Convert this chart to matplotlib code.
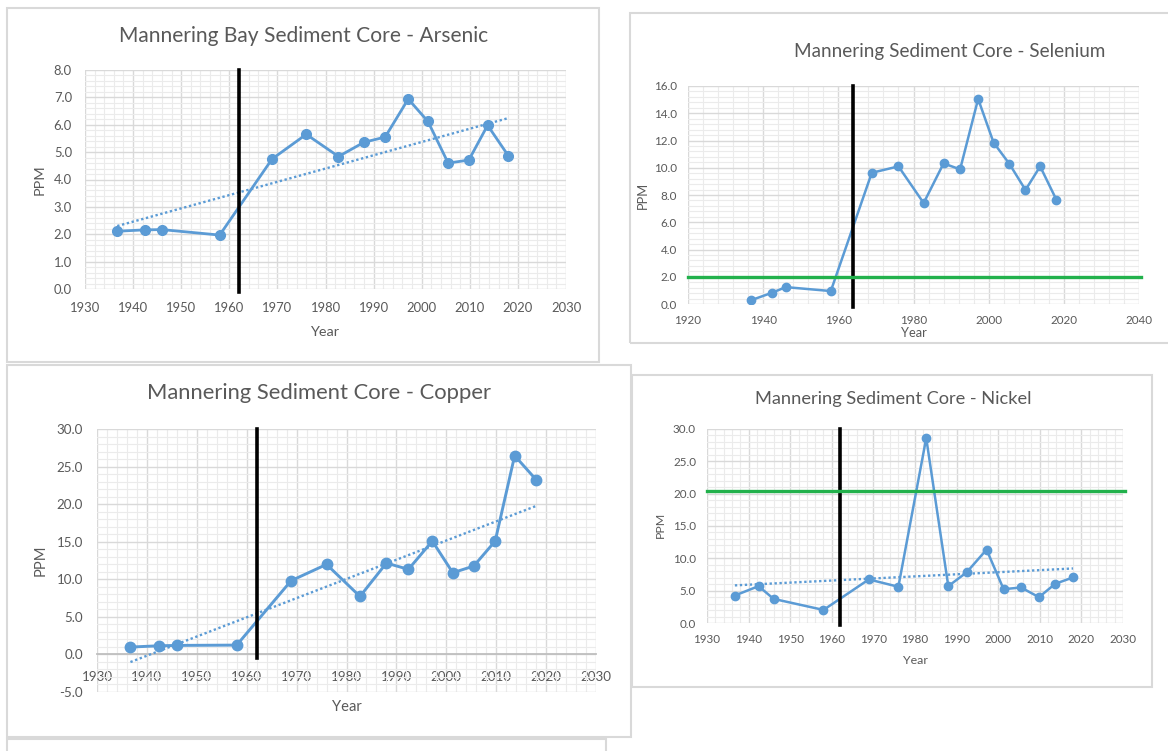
import numpy as np
import matplotlib
matplotlib.use("Agg")
import matplotlib.pyplot as plt
from matplotlib.patches import Rectangle
from matplotlib.ticker import MultipleLocator, FuncFormatter

# ---------------- data ----------------
years = [1936.7, 1942.4, 1946.0, 1958.0, 1968.9, 1976.0, 1982.7, 1988.0,
         1992.4, 1997.2, 2001.3, 2005.5, 2009.8, 2013.7, 2018.0]
arsenic = [2.11, 2.16, 2.17, 1.97, 4.75, 5.65, 4.84, 5.36, 5.55, 6.94, 6.12, 4.60, 4.71, 5.98, 4.87]
selenium = [0.27, 0.83, 1.24, 0.95, 9.63, 10.10, 7.41, 10.32, 9.88, 15.05, 11.85, 10.29, 8.37, 10.10, 7.66]
copper = [0.98, 1.15, 1.20, 1.24, 9.81, 11.98, 7.72, 12.16, 11.32, 15.09, 10.87, 11.76, 15.09, 26.45, 23.25]
nickel = [4.25, 5.70, 3.73, 2.02, 6.74, 5.60, 28.60, 5.70, 7.82, 11.35, 5.23, 5.49, 3.99, 6.06, 7.05]

titles = ["Mannering Bay Sediment Core - Arsenic",
          "Mannering Sediment Core - Selenium",
          "Mannering Sediment Core - Copper",
          "Mannering Sediment Core - Nickel"]
event_year = [1962.0, 1964.0, 1962.0, 1962.0]
threshold = [None, 2.0, None, 20.4]
x_label = "Year"
y_label = "PPM"

# ---------------- style ----------------
W, H = 1168, 751
BLUE = "#5B9BD5"
GREEN = "#22B14C"
TXT = "#595959"
MAJ = "#d9d9d9"
MIN = "#ebebeb"
FAM = ["Lato", "DejaVu Sans"]

fig = plt.figure(figsize=(W / 100, H / 100), dpi=100)
fig.patch.set_facecolor("white")
renderer = fig.canvas.get_renderer()


def fit(text, target_px):
    t = fig.text(0, 0, text, fontsize=10, family=FAM)
    w = t.get_window_extent(renderer).width
    t.remove()
    return 10.0 * target_px / w


def frame(l, t, r, b):
    fig.add_artist(Rectangle((l / W, 1 - b / H), (r - l) / W, (b - t) / H,
                             transform=fig.transFigure, fill=False,
                             edgecolor=MAJ, lw=1.5, zorder=0))


# frames (chart areas)
frame(7, 8, 599, 362)
frame(630, 13, 1170, 343)
frame(7, 365, 631, 737)
frame(632, 375, 1152, 687)
frame(7, 739, 606, 760)

charts = [
    dict(data=arsenic, box=(85, 70, 566, 289), xlim=(1930, 2030), ylim=(0, 8), xmaj=10, ymaj=1,
         tpos=(303.5, 36), tw=369, tick="2030", tickw=30, yearw=29, ygap=13, xgap=20,
         xlpos=(325, 332), ylpos=(39.5, 180), ms=7.0, lw=2.0, trend=True),
    dict(data=selenium, box=(688, 86, 1139, 304), xlim=(1920, 2040), ylim=(0, 16), xmaj=20, ymaj=2,
         tpos=(950, 51), tw=311, tick="2040", tickw=27, yearw=26, ygap=11, xgap=17,
         xlpos=(914, 333), ylpos=(642.5, 195), ms=6.0, lw=1.8, trend=False),
    dict(data=copper, box=(97, 429, 596, 692), xlim=(1930, 2030), ylim=(-5, 30), xmaj=10, ymaj=5,
         tpos=(319, 393), tw=346, tick="2030", tickw=31, yearw=29.5, ygap=14, xgap=24,
         xlpos=(347, 707), ylpos=(40.5, 560), ms=7.5, lw=2.1, trend=True),
    dict(data=nickel, box=(707, 429, 1123, 623), xlim=(1930, 2030), ylim=(0, 30), xmaj=10, ymaj=5,
         tpos=(893, 399), tw=277, tick="2030", tickw=27, yearw=25, ygap=11, xgap=17,
         xlpos=(915, 661), ylpos=(660, 525), ms=6.0, lw=1.8, trend=True),
]

for i, c in enumerate(charts):
    l, t, r, b = c["box"]
    ax = fig.add_axes([l / W, 1 - b / H, (r - l) / W, (b - t) / H])
    ax.set_facecolor("white")
    ax.set_xlim(*c["xlim"])
    ax.set_ylim(*c["ylim"])
    ax.xaxis.set_major_locator(MultipleLocator(c["xmaj"]))
    ax.xaxis.set_minor_locator(MultipleLocator(c["xmaj"] / 5))
    ax.yaxis.set_major_locator(MultipleLocator(c["ymaj"]))
    ax.yaxis.set_minor_locator(MultipleLocator(c["ymaj"] / 5))
    ax.grid(which="minor", color=MIN, lw=0.8, zorder=0)
    ax.grid(which="major", color=MAJ, lw=1.0, zorder=0)
    ax.set_axisbelow(True)
    for s in ax.spines.values():
        s.set_visible(False)
    y0, y1 = c["ylim"]
    if y0 < 0:
        ax.spines["bottom"].set_visible(True)
        ax.spines["bottom"].set_position(("data", 0))
        ax.spines["bottom"].set_color("#bfbfbf")
        ax.spines["bottom"].set_linewidth(1.3)
    ax.yaxis.set_major_formatter(FuncFormatter(lambda v, p: f"{v:.1f}"))
    fs = fit(c["tick"], c["tickw"])
    ax.tick_params(which="both", length=0)
    ax.tick_params(axis="y", labelsize=fs, labelcolor=TXT, pad=c["ygap"] * 0.72)
    ax.tick_params(axis="x", labelsize=fs, labelcolor=TXT, pad=(c["xgap"] - fs / 0.72 * 0.55) * 0.72)
    for lab in ax.get_xticklabels() + ax.get_yticklabels():
        lab.set_family(FAM)

    x = np.array(years)
    y = np.array(c["data"])
    ax.plot(x, y, color=BLUE, lw=c["lw"], marker="o", ms=c["ms"], zorder=4)
    if c["trend"]:
        k, m = np.polyfit(x, y, 1)
        xt = np.array([x.min(), x.max()])
        ax.plot(xt, k * xt + m, color=BLUE, lw=1.7, linestyle=(0, (1, 1.1)), zorder=3)
    base = max(y0, 0)
    vmin = (base - y0) / (y1 - y0) - 0.012
    ax.axvline(event_year[i], ymin=vmin, ymax=1.0, color="black", lw=2.6, zorder=5, clip_on=False)
    if threshold[i] is not None:
        ax.axhline(threshold[i], xmin=0, xmax=1.005, color=GREEN, lw=2.4, zorder=6, clip_on=False)

    tfs = fit(titles[i], c["tw"])
    fig.text(c["tpos"][0] / W, 1 - c["tpos"][1] / H, titles[i], fontsize=tfs, color=TXT,
             family=FAM, ha="center", va="center")
    afs = fit(x_label, c["yearw"])
    fig.text(c["xlpos"][0] / W, 1 - c["xlpos"][1] / H, x_label, fontsize=afs, color=TXT,
             family=FAM, ha="center", va="center")
    fig.text(c["ylpos"][0] / W, 1 - c["ylpos"][1] / H, y_label, fontsize=afs, color=TXT,
             family=FAM, ha="center", va="center", rotation=90)

fig.savefig("out.png", dpi=100, facecolor="white")
